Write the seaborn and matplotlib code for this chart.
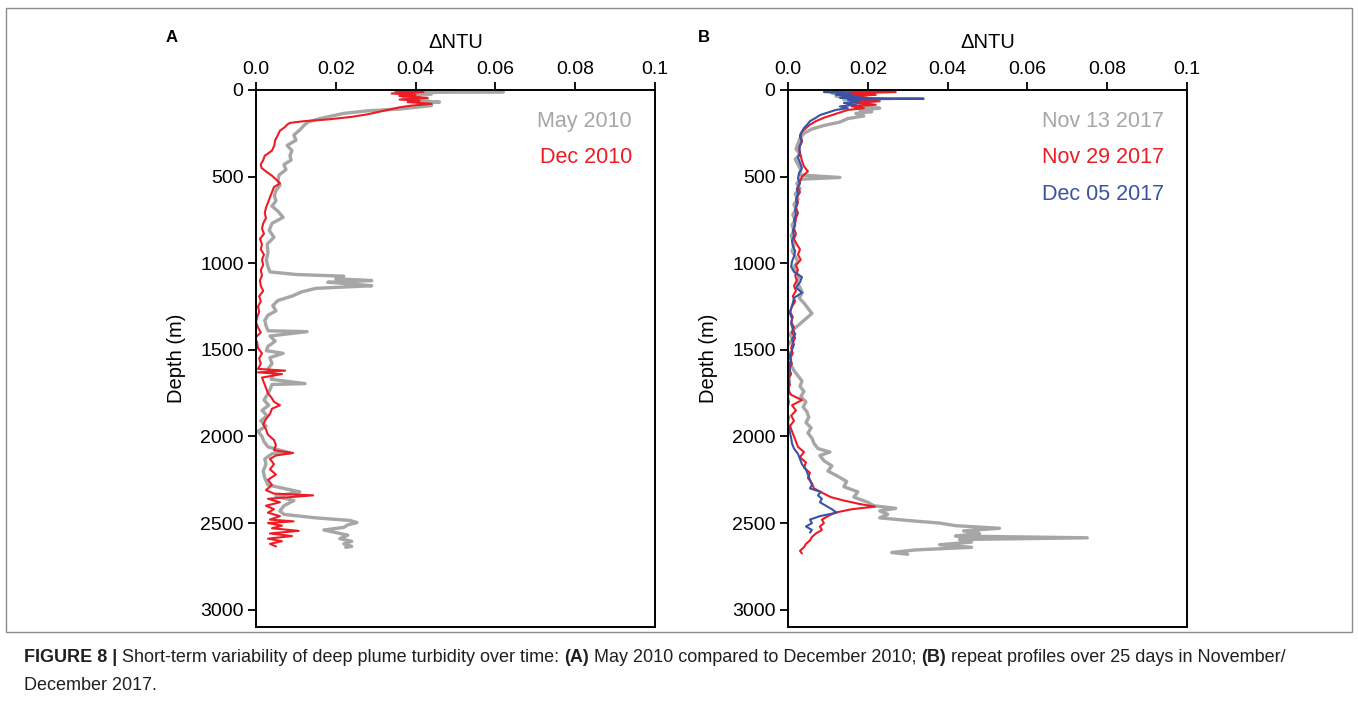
import numpy as np
import pandas as pd
import seaborn as sns
import matplotlib.pyplot as plt
from matplotlib.patches import Rectangle


# ==================================================
# 데이터
# ==================================================

# Panel A - May 2010 (gray)
may_depth = [5, 10, 15, 22, 30, 38, 45, 55, 62, 70, 80, 90, 100, 110, 120, 135, 150, 165, 185, 205,
             230, 260, 290, 320, 350, 380, 405, 430, 460, 490, 520, 550, 580, 610, 640, 670, 700, 735, 770, 810,
             850, 890, 940, 980, 1020, 1050, 1065, 1075, 1090, 1100, 1110, 1120, 1130, 1145, 1165, 1190, 1215, 1245, 1275, 1300,
             1330, 1360, 1390, 1395, 1420, 1450, 1480, 1505, 1520, 1545, 1580, 1610, 1640, 1670, 1695, 1700, 1730, 1760, 1790, 1820,
             1850, 1880, 1910, 1940, 1970, 2000, 2030, 2060, 2095, 2100, 2130, 2160, 2200, 2240, 2280, 2310, 2320, 2345, 2370, 2400,
             2430, 2450, 2470, 2485, 2497, 2510, 2525, 2540, 2555, 2570, 2590, 2605, 2620, 2635, 2640]
may_ntu = [0.035, 0.062, 0.038, 0.044, 0.036, 0.041, 0.037, 0.043, 0.040, 0.046, 0.041, 0.044, 0.040, 0.036, 0.028, 0.022, 0.019, 0.016, 0.013, 0.012,
           0.011, 0.0095, 0.010, 0.0078, 0.009, 0.0085, 0.0088, 0.0070, 0.0075, 0.0058, 0.0055, 0.0060, 0.0050, 0.0046, 0.0050, 0.0040, 0.0055, 0.0068, 0.0040, 0.0033,
           0.0045, 0.0028, 0.0030, 0.0026, 0.0030, 0.0035, 0.010, 0.022, 0.020, 0.029, 0.018, 0.024, 0.029, 0.015, 0.0115, 0.009, 0.0055, 0.0042, 0.0050, 0.0030,
           0.0022, 0.0025, 0.0030, 0.0128, 0.0035, 0.0048, 0.0030, 0.0026, 0.0068, 0.0035, 0.0040, 0.0030, 0.0045, 0.0038, 0.0123, 0.0040, 0.0035, 0.0028, 0.0020, 0.0032,
           0.0015, 0.0028, 0.0012, 0.0025, 0.0005, 0.0015, 0.0020, 0.0030, 0.0085, 0.0040, 0.0022, 0.0025, 0.0018, 0.0022, 0.0030, 0.0090, 0.0110, 0.0050, 0.0095, 0.0070,
           0.0060, 0.0070, 0.0150, 0.0236, 0.0253, 0.0230, 0.0220, 0.0170, 0.0200, 0.0230, 0.0210, 0.0240, 0.0220, 0.0240, 0.0225]

# Panel A - Dec 2010 (red)
dec10_depth = [5, 12, 20, 28, 35, 45, 55, 62, 70, 80, 90, 100, 110, 125, 140, 155, 170, 180, 190, 200,
               215, 235, 260, 290, 320, 350, 380, 405, 430, 450, 470, 495, 520, 540, 560, 590, 620, 650, 680, 710,
               740, 770, 800, 830, 860, 890, 920, 950, 980, 1010, 1040, 1070, 1100, 1130, 1160, 1190, 1220, 1250, 1280, 1310,
               1340, 1370, 1400, 1430, 1460, 1490, 1520, 1550, 1580, 1610, 1620, 1630, 1640, 1660, 1690, 1720, 1750, 1780, 1800, 1820,
               1840, 1870, 1900, 1930, 1960, 1990, 2020, 2050, 2080, 2095, 2110, 2130, 2160, 2190, 2220, 2250, 2280, 2310, 2330, 2340,
               2360, 2380, 2400, 2420, 2440, 2460, 2480, 2490, 2500, 2515, 2530, 2545, 2560, 2575, 2590, 2605, 2620, 2635]
dec10_ntu = [0.035, 0.042, 0.034, 0.040, 0.036, 0.043, 0.036, 0.041, 0.038, 0.044, 0.039, 0.036, 0.034, 0.031, 0.028, 0.024, 0.018, 0.012, 0.0085, 0.0078,
             0.0072, 0.0060, 0.0055, 0.0048, 0.0046, 0.0040, 0.0022, 0.0018, 0.0012, 0.0014, 0.0025, 0.0040, 0.0052, 0.0060, 0.0045, 0.0040, 0.0035, 0.0030, 0.0025, 0.0022,
             0.0025, 0.0018, 0.0015, 0.0020, 0.0010, 0.0015, 0.0012, 0.0020, 0.0015, 0.0018, 0.0012, 0.0015, 0.0010, 0.0012, 0.0018, 0.0008, 0.0012, 0.0005, 0.0008, 0.0003,
             0.0000, 0.0005, 0.0012, -0.0002, 0.0003, 0.0005, 0.0015, 0.0008, 0.0012, 0.0005, 0.0073, 0.0005, 0.0065, 0.0015, 0.0020, 0.0025, 0.0030, 0.0040, 0.0045, 0.0060,
             0.0040, 0.0035, 0.0025, 0.0018, 0.0025, 0.0030, 0.0045, 0.0050, 0.0045, 0.0093, 0.0050, 0.0035, 0.0045, 0.0035, 0.0050, 0.0030, 0.0040, 0.0025, 0.0045, 0.0143,
             0.0030, 0.0060, 0.0025, 0.0045, 0.0030, 0.0060, 0.0035, 0.0094, 0.0030, 0.0065, 0.0040, 0.0107, 0.0035, 0.0090, 0.0030, 0.0065, 0.0035, 0.0050]

# Panel B - Nov 13 2017 (gray)
nov13_depth = [5, 10, 18, 25, 35, 45, 55, 65, 75, 85, 95, 105, 115, 125, 135, 150, 165, 185, 205, 225,
               250, 280, 310, 340, 370, 400, 430, 460, 490, 505, 515, 540, 570, 600, 630, 660, 690, 720, 750, 780,
               810, 840, 870, 900, 930, 960, 990, 1020, 1050, 1080, 1110, 1140, 1170, 1200, 1230, 1260, 1290, 1320, 1350, 1380,
               1410, 1440, 1470, 1500, 1530, 1560, 1590, 1620, 1650, 1680, 1710, 1740, 1770, 1800, 1830, 1860, 1890, 1920, 1950, 1980,
               2010, 2040, 2070, 2090, 2110, 2140, 2170, 2200, 2230, 2260, 2290, 2320, 2350, 2380, 2400, 2415, 2430, 2450, 2470, 2485,
               2500, 2515, 2530, 2545, 2560, 2575, 2585, 2595, 2610, 2625, 2640, 2655, 2670, 2680]
nov13_ntu = [0.012, 0.018, 0.011, 0.016, 0.012, 0.019, 0.014, 0.020, 0.016, 0.021, 0.017, 0.023, 0.018, 0.021, 0.017, 0.019, 0.015, 0.013, 0.009, 0.006,
             0.004, 0.003, 0.0025, 0.0020, 0.0030, 0.0018, 0.0025, 0.0032, 0.0028, 0.0130, 0.0030, 0.0022, 0.0030, 0.0018, 0.0025, 0.0015, 0.0020, 0.0012, 0.0018, 0.0010,
             0.0015, 0.0008, 0.0012, 0.0015, 0.0010, 0.0018, 0.0025, 0.0015, 0.0020, 0.0028, 0.0022, 0.0030, 0.0036, 0.0028, 0.0040, 0.0050, 0.0060, 0.0045, 0.0030, 0.0015,
             0.0005, 0.0012, 0.0000, -0.0003, 0.0005, -0.0002, 0.0008, 0.0015, 0.0025, 0.0035, 0.0030, 0.0040, 0.0032, 0.0045, 0.0038, 0.0048, 0.0052, 0.0045, 0.0058, 0.0050,
             0.0060, 0.0065, 0.0075, 0.0105, 0.0080, 0.0090, 0.0110, 0.0100, 0.0125, 0.0147, 0.0140, 0.0175, 0.0165, 0.0200, 0.0215, 0.0270, 0.0230, 0.0250, 0.0230, 0.0300,
             0.0380, 0.0420, 0.0530, 0.0440, 0.0480, 0.0420, 0.0750, 0.0430, 0.0460, 0.0380, 0.0460, 0.0320, 0.0260, 0.0300]

# Panel B - Nov 29 2017 (red)
nov29_depth = [5, 12, 20, 28, 36, 45, 55, 65, 75, 85, 95, 105, 115, 130, 145, 160, 180, 200, 220, 240,
               260, 290, 320, 350, 380, 410, 440, 470, 500, 530, 560, 590, 620, 650, 680, 710, 740, 770, 800, 830,
               860, 890, 920, 950, 980, 1010, 1040, 1070, 1100, 1130, 1160, 1190, 1220, 1250, 1280, 1310, 1340, 1370, 1400, 1430,
               1460, 1490, 1520, 1550, 1580, 1610, 1640, 1670, 1700, 1730, 1760, 1790, 1820, 1850, 1880, 1910, 1940, 1970, 2000, 2030,
               2060, 2090, 2120, 2150, 2180, 2210, 2240, 2270, 2300, 2330, 2350, 2370, 2390, 2405, 2420, 2440, 2460, 2480, 2500, 2520,
               2540, 2560, 2580, 2600, 2620, 2640, 2660, 2675]
nov29_ntu = [0.012, 0.027, 0.015, 0.022, 0.014, 0.020, 0.016, 0.023, 0.017, 0.022, 0.016, 0.019, 0.015, 0.013, 0.011, 0.009, 0.007, 0.0055, 0.0045, 0.0035,
             0.0030, 0.0035, 0.0030, 0.0028, 0.0032, 0.0035, 0.0040, 0.0050, 0.0035, 0.0030, 0.0025, 0.0030, 0.0022, 0.0025, 0.0020, 0.0025, 0.0020, 0.0018, 0.0015, 0.0020,
             0.0015, 0.0022, 0.0030, 0.0025, 0.0032, 0.0020, 0.0025, 0.0018, 0.0022, 0.0015, 0.0020, 0.0012, 0.0018, 0.0010, 0.0005, 0.0012, 0.0008, 0.0015, 0.0010, 0.0018,
             0.0012, 0.0008, 0.0012, 0.0005, 0.0010, 0.0003, 0.0008, 0.0000, 0.0005, 0.0000, 0.0008, 0.0035, 0.0010, 0.0020, 0.0008, 0.0015, 0.0005, 0.0010, 0.0015, 0.0020,
             0.0025, 0.0040, 0.0030, 0.0045, 0.0040, 0.0055, 0.0050, 0.0060, 0.0065, 0.0090, 0.0107, 0.0140, 0.0180, 0.0218, 0.0160, 0.0118, 0.0100, 0.0085, 0.0090, 0.0080,
             0.0085, 0.0070, 0.0060, 0.0055, 0.0045, 0.0040, 0.0030, 0.0035]

# Panel B - Dec 05 2017 (blue)
dec05_depth = [5, 12, 20, 28, 36, 45, 50, 55, 65, 75, 85, 95, 105, 115, 130, 145, 160, 180, 200, 220,
               240, 270, 300, 330, 360, 390, 420, 450, 480, 510, 540, 570, 600, 630, 660, 690, 720, 750, 780, 810,
               840, 870, 900, 930, 960, 990, 1020, 1050, 1080, 1110, 1140, 1170, 1200, 1230, 1260, 1290, 1320, 1350, 1380, 1410,
               1440, 1470, 1500, 1530, 1560, 1590, 1620, 1650, 1680, 1710, 1740, 1770, 1800, 1830, 1860, 1890, 1920, 1950, 1980, 2010,
               2040, 2070, 2100, 2130, 2160, 2190, 2220, 2250, 2280, 2300, 2320, 2340, 2360, 2380, 2400, 2420, 2440, 2460, 2480, 2500,
               2520, 2540, 2555]
dec05_ntu = [0.013, 0.009, 0.016, 0.012, 0.018, 0.013, 0.034, 0.015, 0.018, 0.014, 0.017, 0.013, 0.015, 0.012, 0.010, 0.008, 0.007, 0.0055, 0.0048, 0.0040,
             0.0035, 0.0030, 0.0035, 0.0028, 0.0030, 0.0025, 0.0030, 0.0035, 0.0028, 0.0025, 0.0030, 0.0022, 0.0025, 0.0020, 0.0022, 0.0018, 0.0020, 0.0015, 0.0018, 0.0012,
             0.0015, 0.0010, 0.0012, 0.0018, 0.0015, 0.0010, 0.0008, 0.0015, 0.0035, 0.0030, 0.0020, 0.0035, 0.0015, 0.0012, 0.0008, 0.0005, 0.0010, 0.0008, 0.0012, 0.0018,
             0.0010, 0.0015, 0.0010, 0.0005, 0.0008, 0.0003, 0.0005, 0.0002, 0.0004, 0.0001, 0.0003, 0.0000, 0.0002, 0.0000, -0.0002, 0.0002, 0.0000, 0.0003, 0.0005, 0.0008,
             0.0010, 0.0015, 0.0025, 0.0030, 0.0035, 0.0045, 0.0050, 0.0055, 0.0060, 0.0055, 0.0082, 0.0075, 0.0085, 0.0080, 0.0095, 0.0110, 0.0122, 0.0080, 0.0055, 0.0060,
             0.0045, 0.0060, 0.0055]

x_ticks = [0.0, 0.02, 0.04, 0.06, 0.08, 0.1]
x_tick_labels = ["0.0", "0.02", "0.04", "0.06", "0.08", "0.1"]
y_ticks = [0, 500, 1000, 1500, 2000, 2500, 3000]

GRAY = "#a6a6a6"
RED = "#ed1c24"
BLUE = "#3a53a4"

panels = [
    ("A", [("May 2010", may_depth, may_ntu, GRAY, 2.4),
           ("Dec 2010", dec10_depth, dec10_ntu, RED, 1.5)]),
    ("B", [("Nov 13 2017", nov13_depth, nov13_ntu, GRAY, 2.4),
           ("Nov 29 2017", nov29_depth, nov29_ntu, RED, 1.5),
           ("Dec 05 2017", dec05_depth, dec05_ntu, BLUE, 1.5)]),
]


# 시각화 설정
sns.set_style("ticks")
plt.rcParams["font.family"] = ["Liberation Sans", "DejaVu Sans"]
plt.rcParams["axes.linewidth"] = 1.4
plt.rcParams["text.color"] = "black"
plt.rcParams["axes.labelcolor"] = "black"
plt.rcParams["axes.edgecolor"] = "black"
plt.rcParams["xtick.color"] = "black"
plt.rcParams["ytick.color"] = "black"


fig = plt.figure(figsize=(13.58, 7.12), dpi=100)

lefts = [256 / 1358, 788 / 1358]
W, H = 1358, 712

for (letter, series), left in zip(panels, lefts):
    ax = fig.add_axes([left, 1 - 627 / H, 399 / W, 537 / H])

    for name, depth, ntu, color, lw in series:
        assert len(depth) == len(ntu), name
        df = pd.DataFrame({"depth": depth, "ntu": ntu})
        sns.lineplot(data=df, x="ntu", y="depth", sort=False, estimator=None,
                     color=color, lw=lw, ax=ax)

    ax.set_xlim(0, 0.1)
    ax.set_ylim(3100, 0)
    ax.xaxis.tick_top()
    ax.xaxis.set_label_position("top")
    ax.set_xticks(x_ticks)
    ax.set_xticklabels(x_tick_labels)
    ax.set_yticks(y_ticks)
    ax.tick_params(axis="both", direction="out", length=6, width=1.3,
                   labelsize=14, colors="black", pad=3)
    ax.set_xlabel("ΔNTU", fontsize=14.5, labelpad=9)
    ax.set_ylabel("Depth (m)", fontsize=14.5, labelpad=10)

    for i, (name, depth, ntu, color, lw) in enumerate(series):
        ax.text(0.942, 0.942 - i * 0.068, name, color=color, fontsize=15.5,
                ha="right", va="center", transform=ax.transAxes)

    fig.text(left - 84 / W, 1 - 37 / H, letter, fontsize=12, fontweight="bold",
             ha="center", va="center")


# 바깥 테두리
fig.patches.append(Rectangle((6 / W, 1 - 632 / H), 1346 / W, 624 / H,
                             transform=fig.transFigure, fill=False,
                             edgecolor="#8c8c8c", lw=1.0))


# 캡션
cap_font = ["Liberation Sans", "DejaVu Sans"]
renderer = fig.canvas.get_renderer()
parts = [
    ("FIGURE 8 |", "bold"),
    (" Short-term variability of deep plume turbidity over time: ", "normal"),
    ("(A)", "bold"),
    (" May 2010 compared to December 2010; ", "normal"),
    ("(B)", "bold"),
    (" repeat profiles over 25 days in November/", "normal"),
]
x = 24 / W
for txt, weight in parts:
    t = fig.text(x, 1 - 657 / H, txt, fontsize=13, fontweight=weight,
                 family=cap_font, ha="left", va="center", color="#231f20")
    bb = t.get_window_extent(renderer=renderer)
    x += bb.width / W
fig.text(24 / W, 1 - 685 / H, "December 2017.", fontsize=13,
         family=cap_font, ha="left", va="center", color="#231f20")


plt.savefig("out.png", dpi=100)
plt.close()
